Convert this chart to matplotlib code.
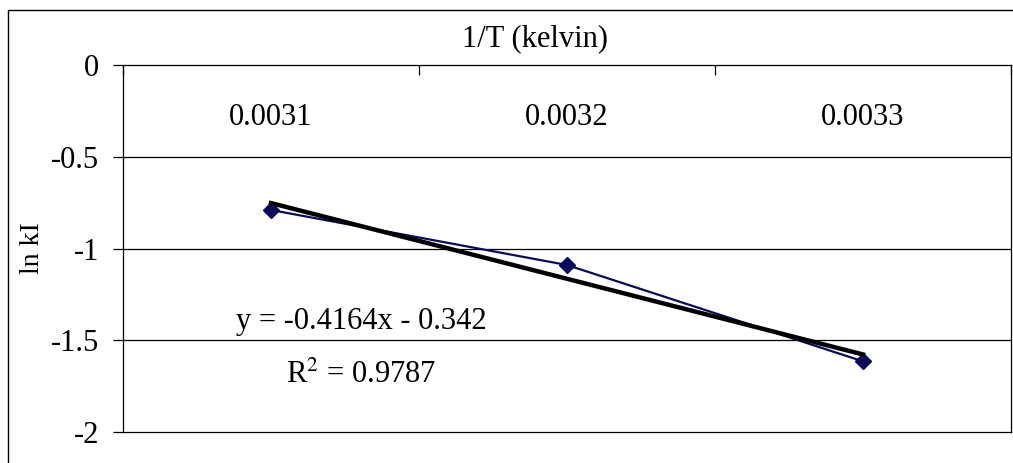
import numpy as np
import matplotlib
matplotlib.use("Agg")
import matplotlib.pyplot as plt
from matplotlib.patches import Rectangle

plt.rcParams['font.family'] = ['Liberation Serif', 'DejaVu Serif']
plt.rcParams['mathtext.fontset'] = 'stix'
plt.rcParams['axes.unicode_minus'] = False

# data
categories = ['0.0031', '0.0032', '0.0033']
ln_k = [-0.79, -1.09, -1.615]
y_ticks = [0, -0.5, -1, -1.5, -2]
y_tick_labels = ['0', '-0.5', '-1', '-1.5', '-2']

x = np.arange(1, len(categories) + 1)
slope, intercept = np.polyfit(x, ln_k, 1)

W, H = 1013, 463
fig = plt.figure(figsize=(W / 100, H / 100), dpi=100)
ax = fig.add_axes([123 / W, 1 - 432 / H, (1011 - 123) / W, (432 - 65) / H])

# gridlines
for yv in y_ticks[1:-1]:
    ax.axhline(yv, color='black', lw=0.9, zorder=1)

# data series and linear trendline
ax.plot(x, ln_k, color='#0a0a5a', lw=1.6, marker='D', markersize=8,
        markerfacecolor='#0a0a5a', markeredgecolor='#0a0a5a', zorder=3)
ax.plot(x, slope * x + intercept, color='black', lw=3.2, zorder=4)

ax.set_xlim(0.5, len(categories) + 0.5)
ax.set_ylim(-2, 0)

ax.set_yticks(y_ticks)
ax.set_yticklabels(y_tick_labels, fontsize=22)
ax.tick_params(axis='y', direction='out', length=7, width=0.9, pad=10)

# category axis sits at y=0 (top); tick marks between categories
ax.xaxis.tick_top()
ax.set_xticks(np.arange(0.5, len(categories) + 1, 1.0))
ax.set_xticklabels([])
ax.tick_params(axis='x', direction='in', length=7, width=0.9)
for xi, lab in zip(x, categories):
    ax.text(xi, -0.285, lab, fontsize=22, ha='center', va='center')

for s in ax.spines.values():
    s.set_linewidth(0.9)
    s.set_color('black')

ax.set_ylabel('ln kI', fontsize=20)
ax.yaxis.set_label_coords(-0.088, 0.5)

fig.text(535 / W, 1 - 39 / H, '1/T (kelvin)', fontsize=22, ha='center', va='center')
fig.text(361 / W, 1 - 321 / H, 'y = -0.4164x - 0.342', fontsize=22,
         ha='center', va='center')
fig.text(361 / W, 1 - 375 / H, r'R$^2$ = 0.9787', fontsize=22,
         ha='center', va='center')

# outer chart border
fig.add_artist(Rectangle((8 / W, -0.2), 1.2, 1.2 - 10 / H, fill=False,
                         edgecolor='black', lw=1.0, transform=fig.transFigure))

fig.savefig('out.png', dpi=100)
